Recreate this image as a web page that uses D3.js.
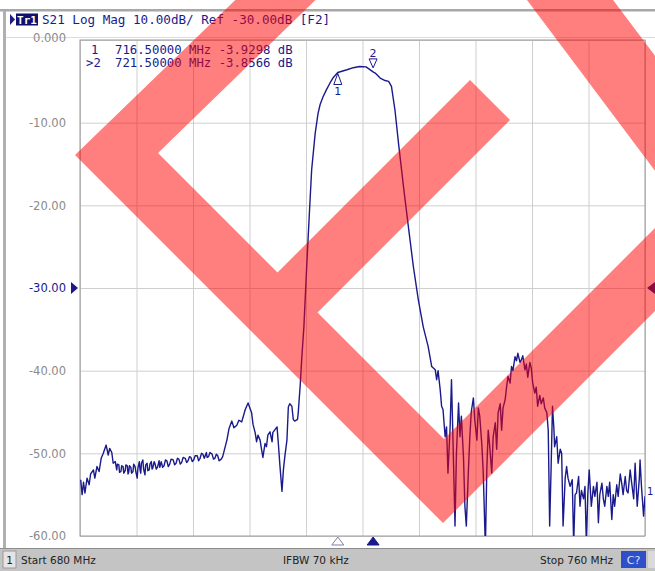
<!DOCTYPE html>
<html>
<head>
<meta charset="utf-8">
<script src="https://cdn.jsdelivr.net/npm/d3@7"></script>
<style>
  body { margin: 0; background: #fff; }
  svg { display: block; }
  .mono { font-family: "DejaVu Sans Mono", monospace; }
  .sans { font-family: "DejaVu Sans", sans-serif; }
</style>
</head>
<body>
<div id="chart"></div>
<script>
// S21 trace, [MHz, dB]
const trace = [
  [680.1,-53.2],[680.3,-55.0],[680.5,-53.5],[680.7,-54.8],[681.0,-53.0],[681.3,-53.8],[681.5,-52.5],[681.9,-52.0],
  [682.1,-53.0],[682.4,-51.6],[682.7,-52.2],[683.0,-50.6],[683.3,-50.0],[683.7,-49.0],[684.0,-50.2],[684.2,-49.4],
  [684.5,-49.9],[684.7,-51.2],[685.0,-51.0],[685.2,-52.0],[685.3,-51.3],[685.5,-51.4],[685.6,-52.3],[685.8,-52.2],
  [685.9,-51.5],[686.1,-51.6],[686.2,-52.4],[686.4,-52.1],[686.5,-51.4],[686.7,-51.5],[686.8,-52.5],[686.9,-52.3],
  [687.0,-51.5],[687.2,-51.7],[687.3,-52.4],[687.5,-52.2],[687.6,-51.3],[687.8,-51.6],[687.9,-52.2],[688.1,-53.0],
  [688.2,-51.8],[688.4,-51.0],[688.5,-52.0],[688.6,-52.4],[688.7,-51.2],[688.9,-50.8],[689.0,-51.9],[689.2,-52.6],
  [689.3,-51.4],[689.5,-51.2],[689.6,-52.1],[689.8,-52.0],[689.9,-51.3],[690.1,-51.0],[690.2,-51.9],[690.3,-51.8],
  [690.5,-51.0],[690.6,-51.2],[690.8,-51.9],[691.0,-51.6],[691.2,-50.9],[691.3,-51.7],[691.5,-51.0],[691.7,-51.7],
  [691.9,-51.5],[692.1,-50.8],[692.3,-50.9],[692.5,-51.6],[692.7,-51.3],[692.9,-50.7],[693.2,-50.8],[693.4,-51.4],
  [693.6,-51.2],[693.8,-50.6],[694.0,-50.7],[694.2,-51.3],[694.4,-51.1],[694.6,-50.5],[694.9,-50.6],[695.1,-51.1],
  [695.3,-50.9],[695.5,-50.4],[695.7,-50.5],[695.9,-51.0],[696.1,-50.8],[696.3,-50.3],[696.6,-50.3],[696.8,-50.9],
  [697.0,-50.6],[697.2,-50.0],[697.4,-50.1],[697.6,-50.6],[697.9,-49.9],[698.0,-50.5],[698.2,-50.4],[698.4,-49.9],
  [698.7,-50.1],[698.9,-50.7],[699.1,-50.6],[699.3,-50.1],[699.5,-50.3],[699.7,-50.9],[700.0,-50.7],[700.2,-50.4],
  [700.8,-48.4],[701.1,-47.0],
  [701.5,-46.1],[701.8,-46.9],[702.2,-46.6],[702.5,-46.0],[702.9,-46.2],[703.4,-44.7],[703.8,-43.9],[704.3,-45.1],
  [704.5,-46.5],[704.8,-47.5],[705.0,-48.6],[705.2,-47.8],[705.5,-48.4],[705.7,-49.5],[705.9,-50.5],[706.2,-48.8],
  [706.4,-49.2],[706.6,-47.8],[706.9,-47.4],[707.2,-48.6],[707.3,-47.5],[707.9,-46.8],[708.1,-49.0],[708.3,-51.4],
  [708.6,-54.6],[708.8,-52.0],[709.0,-50.4],[709.3,-48.4],[709.5,-44.4],[709.7,-44.0],[710.0,-44.3],[710.2,-45.9],
  [710.4,-46.1],[710.8,-45.9],[710.9,-45.1],[711.2,-41.5],[711.4,-38.5],[711.7,-34.7],[712.1,-27.4],[712.3,-24.0],
  [712.5,-20.6],[712.8,-15.7],[713.3,-11.3],[713.7,-8.9],[714.0,-7.8],[714.4,-6.9],[714.9,-6.0],[715.4,-5.2],
  [715.9,-4.5],[716.5,-3.93],[717.8,-3.6],[718.7,-3.35],[719.6,-3.2],[720.5,-3.25],[721.5,-3.86],[721.8,-4.0],
  [722.5,-4.6],[723.2,-4.9],[723.7,-5.0],[724.1,-5.6],[724.6,-8.5],[725.1,-12.5],[725.8,-17.7],[726.5,-22.6],
  [727.2,-27.4],[727.9,-31.4],[728.6,-34.7],[729.3,-37.1],[729.8,-39.5],[730.3,-39.9],[730.5,-41.1],[730.7,-40.0],
  [731.0,-42.3],[731.2,-44.3],[731.4,-44.7],[731.7,-48.0],[731.9,-46.8],[732.1,-52.4],[732.4,-47.0],[732.6,-41.1],
  [732.8,-48.0],[733.1,-58.8],[733.3,-50.0],[733.6,-43.9],[733.8,-48.0],[734.0,-45.5],[734.3,-50.5],[734.5,-56.4],
  [734.7,-58.8],[735.0,-52.0],[735.2,-48.0],[735.4,-45.0],[735.7,-43.3],[735.9,-46.0],[736.2,-48.4],[736.4,-44.5],
  [736.6,-45.5],[736.9,-49.0],[737.1,-52.4],[737.4,-61.5],[737.6,-52.0],[737.8,-47.2],[738.0,-49.0],[738.3,-52.4],
  [738.5,-48.0],[738.8,-46.3],[739.0,-49.5],[739.2,-45.1],[739.5,-44.0],[739.7,-47.2],[739.9,-44.5],[740.2,-43.5],
  [740.4,-42.0],[740.6,-40.7],[740.9,-41.5],[741.1,-39.5],[741.3,-40.0],[741.6,-38.3],[741.8,-38.8],[742.0,-37.9],
  [742.3,-39.0],[742.5,-38.7],[742.7,-38.2],[743.0,-39.9],[743.2,-39.2],[743.4,-40.8],[743.7,-39.0],[743.9,-39.7],
  [744.1,-41.5],[744.4,-42.7],[744.6,-42.0],[744.8,-44.3],[745.1,-43.0],[745.3,-44.0],[745.6,-43.3],[745.8,-44.5],
  [746.1,-45.1],[746.3,-47.2],[746.5,-58.8],[746.7,-52.0],[746.9,-44.3],[747.1,-47.0],[747.2,-49.2],[747.5,-48.0],
  [747.7,-51.2],[748.0,-49.5],[748.2,-50.0],[748.4,-58.8],[748.7,-53.0],[748.9,-51.6],[749.1,-53.0],[749.4,-54.0],
  [749.7,-53.2],[749.9,-61.0],[750.1,-55.0],[750.3,-54.8],[750.6,-52.8],[750.8,-56.4],[751.0,-54.5],[751.3,-55.5],
  [751.5,-54.0],[751.7,-61.0],[751.9,-55.0],[752.1,-52.0],[752.4,-56.4],[752.7,-54.0],[752.9,-55.2],[753.2,-53.5],
  [753.4,-58.4],[753.6,-55.0],[753.9,-53.6],[754.1,-55.5],[754.3,-56.4],[754.6,-54.0],[754.8,-55.2],[755.0,-53.5],
  [755.3,-58.0],[755.5,-55.0],[755.7,-56.4],[756.0,-53.8],[756.2,-55.2],[756.5,-52.5],[756.7,-53.6],[756.9,-55.0],
  [757.2,-52.8],[757.4,-54.5],[757.6,-54.8],[757.9,-52.0],[758.1,-53.5],[758.4,-55.5],[758.6,-51.2],[758.9,-56.4],
  [759.2,-53.0],[759.3,-50.8],[759.5,-54.0],[759.8,-57.6],[760.0,-55.2]
];

const markerNames = ["1", "2"];
const markerFreq = [716.5, 721.5];
const markerVal = [-3.9298, -3.8566];

const yTicks = [-60, -50, -40, -30, -20, -10, 0];
const yTickLabels = ["-60.00", "-50.00", "-40.00", "-30.00", "-20.00", "-10.00", "0.000"];
const xGrid = [680, 688, 696, 704, 712, 720, 728, 736, 744, 752, 760];
const refLevel = -30;

const W = 655, H = 571;
const navy = "#1a1a8c";

const svg = d3.select("#chart").append("svg").attr("width", W).attr("height", H);
svg.append("rect").attr("width", W).attr("height", H).attr("fill", "#fff");

const x = d3.scaleLinear().domain([680, 760]).range([80, 645]);
const y = d3.scaleLinear().domain([-60, 0]).range([536, 40]);

// frame bits
svg.append("rect").attr("x", 0).attr("y", 9).attr("width", W).attr("height", 2.5).attr("fill", "#a8a8a8");
svg.append("rect").attr("x", 3).attr("y", 11).attr("width", 3).attr("height", 537).attr("fill", "#b0b0b0");
svg.append("line").attr("x1", 6).attr("x2", W).attr("y1", 37.5).attr("y2", 37.5).attr("stroke", "#dcdcdc");

// header
svg.append("path").attr("d", "M10,14 L15,19.5 L10,25 Z").attr("fill", navy);
svg.append("rect").attr("x", 16).attr("y", 13.5).attr("width", 22).attr("height", 12).attr("fill", "#10106e");
svg.append("text").attr("class", "mono").attr("x", 27).attr("y", 23.5).attr("text-anchor", "middle")
  .attr("font-size", 11).attr("font-weight", "bold").attr("fill", "#fff").text("Tr1");
svg.append("text").attr("class", "mono").attr("x", 42).attr("y", 24)
  .attr("font-size", 12.6).attr("fill", navy)
  .text("S21 Log Mag 10.00dB/ Ref -30.00dB [F2]");

// grid
const plot = svg.append("g");
plot.append("g").attr("transform", "translate(0,536)")
  .call(d3.axisBottom(x).tickValues(xGrid).tickSize(-496).tickFormat(""))
  .call(g => g.select(".domain").remove())
  .selectAll("line").attr("stroke", "#cfcfcf");
plot.append("g").attr("transform", "translate(80,0)")
  .call(d3.axisLeft(y).tickValues(yTicks).tickSize(-565).tickFormat(""))
  .call(g => g.select(".domain").remove())
  .selectAll("line").attr("stroke", "#cfcfcf");
plot.append("rect").attr("x", 80).attr("y", 40).attr("width", 565).attr("height", 496)
  .attr("fill", "none").attr("stroke", "#9a9a9a");

// y labels
const yAx = svg.append("g").attr("transform", "translate(70,0)")
  .call(d3.axisLeft(y).tickValues(yTicks).tickSize(0).tickPadding(4)
    .tickFormat((d, i) => yTickLabels[i]));
yAx.select(".domain").remove();
yAx.selectAll("text").attr("class", "sans").attr("font-size", 11.5)
  .attr("fill", d => d === refLevel ? navy : "#8a8a8a")
  .attr("dy", d => d === 0 ? "0.1em" : "0.32em");

// reference level arrows
svg.append("path").attr("d", `M71,${y(refLevel) - 6} L78,${y(refLevel)} L71,${y(refLevel) + 6} Z`).attr("fill", navy);
svg.append("path").attr("d", `M655,${y(refLevel) - 6} L647,${y(refLevel)} L655,${y(refLevel) + 6} Z`).attr("fill", navy);

// trace
svg.append("clipPath").attr("id", "clip").append("rect")
  .attr("x", 80).attr("y", 40).attr("width", 565).attr("height", 496);
svg.append("path").datum(trace)
  .attr("clip-path", "url(#clip)")
  .attr("fill", "none").attr("stroke", navy).attr("stroke-width", 1.4)
  .attr("stroke-linejoin", "round")
  .attr("d", d3.line().x(d => x(d[0])).y(d => y(d[1])));
svg.append("text").attr("class", "sans").attr("x", 647).attr("y", y(-54.5) + 4)
  .attr("font-size", 10).attr("fill", navy).text("1");

// markers on trace
markerFreq.forEach((f, i) => {
  const mx = x(f), my = y(markerVal[i]);
  if (i === 0) {
    svg.append("path").attr("d", `M${mx},${my + 1} L${mx - 4},${my + 12} L${mx + 4},${my + 12} Z`)
      .attr("fill", "none").attr("stroke", navy).attr("stroke-width", 1);
    svg.append("text").attr("class", "sans").attr("x", mx).attr("y", my + 23).attr("text-anchor", "middle")
      .attr("font-size", 11).attr("fill", navy).text(markerNames[i]);
  } else {
    svg.append("path").attr("d", `M${mx},${my - 4} L${mx - 4},${my - 13} L${mx + 4},${my - 13} Z`)
      .attr("fill", "none").attr("stroke", navy).attr("stroke-width", 1);
    svg.append("text").attr("class", "sans").attr("x", mx).attr("y", my - 15).attr("text-anchor", "middle")
      .attr("font-size", 11).attr("fill", navy).text(markerNames[i]);
  }
  // stimulus arrows under the grid
  svg.append("path").attr("d", `M${mx},537 L${mx - 6},545 L${mx + 6},545 Z`)
    .attr("fill", i === 1 ? navy : "#fff").attr("stroke", i === 1 ? navy : "#8080a8").attr("stroke-width", 1);
});

// marker table
markerFreq.forEach((f, i) => {
  const ty = 54 + i * 12.5;
  svg.append("text").attr("class", "mono").attr("x", i === 1 ? 86 : 91).attr("y", ty)
    .attr("font-size", 12.3).attr("fill", navy).text((i === 1 ? ">" : "") + markerNames[i]);
  svg.append("text").attr("class", "mono").attr("x", 115).attr("y", ty)
    .attr("font-size", 12.3).attr("fill", navy)
    .text(f.toFixed(5) + " MHz " + markerVal[i].toFixed(4) + " dB");
});

// status bar
const sb = svg.append("g");
sb.append("rect").attr("x", 0).attr("y", 548).attr("width", W).attr("height", 23).attr("fill", "#c4c4c4");
sb.append("line").attr("x1", 0).attr("x2", W).attr("y1", 548.5).attr("y2", 548.5).attr("stroke", "#8c8c8c");
sb.append("rect").attr("x", 3).attr("y", 551).attr("width", 13).attr("height", 17).attr("fill", "#e4e4e4").attr("stroke", "#9a9a9a");
sb.append("text").attr("class", "sans").attr("x", 9.5).attr("y", 564).attr("text-anchor", "middle")
  .attr("font-size", 10.5).attr("fill", "#222").text("1");
sb.append("text").attr("class", "sans").attr("x", 21).attr("y", 564).attr("font-size", 10.5).attr("fill", "#222").text("Start 680 MHz");
sb.append("text").attr("class", "sans").attr("x", 283).attr("y", 564).attr("font-size", 10.5).attr("fill", "#222").text("IFBW 70 kHz");
sb.append("text").attr("class", "sans").attr("x", 540).attr("y", 564).attr("font-size", 10.5).attr("fill", "#222").text("Stop 760 MHz");
sb.append("rect").attr("x", 621).attr("y", 551).attr("width", 25).attr("height", 17).attr("fill", "#2f4fc8");
sb.append("text").attr("class", "sans").attr("x", 633.5).attr("y", 564).attr("text-anchor", "middle")
  .attr("font-size", 11).attr("fill", "#d8e0ff").text("C?");
sb.append("rect").attr("x", 648).attr("y", 551).attr("width", 7).attr("height", 17).attr("fill", "#dadada");

// red watermark overlay on the photo
const wm = svg.append("g").attr("opacity", 0.5).attr("fill", "#ff0000");
[
  [[256,-20],[75,155],[443,523],[665,301],[665,218],[444,439],[158,153],[336,-20]],
  [[235,315],[470,80],[510,120],[317,313]],
  [[512,-20],[598,-20],[665,69],[665,184]]
].forEach(p => wm.append("polygon").attr("points", p.map(q => q.join(",")).join(" ")));
</script>
</body>
</html>
